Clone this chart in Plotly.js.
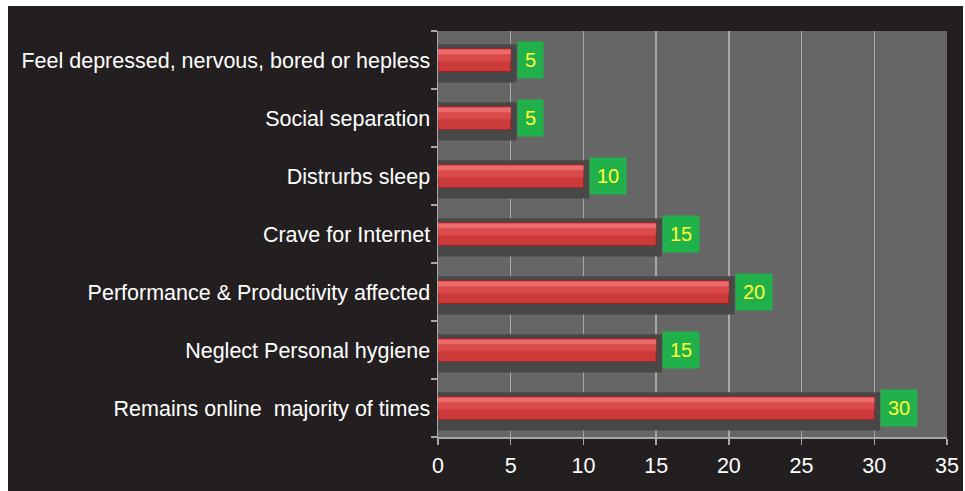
<!DOCTYPE html>
<html>
<head>
<meta charset="utf-8">
<script src="https://cdn.plot.ly/plotly-3.0.1.min.js"></script>
<style>
html,body{margin:0;padding:0;background:#ffffff;}
#chart{position:absolute;left:8px;top:6px;width:955px;height:485px;}
</style>
</head>
<body>
<div id="chart"></div>
<script>
// Data (bottom to top as drawn by Plotly)
const categories = [
  "Remains online  majority of times",
  "Neglect Personal hygiene",
  "Performance & Productivity affected",
  "Crave for Internet",
  "Distrurbs sleep",
  "Social separation",
  "Feel depressed, nervous, bored or hepless"
];
const values = [30, 15, 20, 15, 10, 5, 5];
const xTicks = [0, 5, 10, 15, 20, 25, 30, 35];

const shadowTrace = {
  type: 'bar', orientation: 'h',
  y: categories, x: values.map(v => v + 0.4),
  width: 0.66, offset: -0.39,
  marker: {color: '#484848'},
  hoverinfo: 'skip', showlegend: false
};
const mainTrace = {
  type: 'bar', orientation: 'h',
  y: categories, x: values,
  width: 0.4, offset: -0.2,
  marker: {color: '#cc3b3b', line: {color: '#9a2424', width: 1}},
  showlegend: false
};
const midTrace = {
  type: 'bar', orientation: 'h',
  y: categories, x: values,
  width: 0.2, offset: -0.02,
  marker: {color: '#da4a4a'},
  hoverinfo: 'skip', showlegend: false
};
const highlightTrace = {
  type: 'bar', orientation: 'h',
  y: categories, x: values,
  width: 0.08, offset: 0.1,
  marker: {color: '#e96b6b'},
  hoverinfo: 'skip', showlegend: false
};

const annotations = values.map((v, i) => ({
  x: v, y: categories[i], xref: 'x', yref: 'y',
  text: String(v), showarrow: false,
  xanchor: 'left', xshift: 6,
  bgcolor: '#21b14b', borderpad: 7,
  font: {family: 'Liberation Sans, Arial, sans-serif', size: 20, color: '#ffff33'}
}));

const layout = {
  width: 955, height: 485,
  paper_bgcolor: '#231f20',
  plot_bgcolor: '#666666',
  barmode: 'overlay',
  margin: {l: 430, r: 16, t: 25, b: 54},
  font: {family: 'Liberation Sans, Arial, sans-serif', color: '#ffffff'},
  xaxis: {
    range: [0, 35],
    tickvals: xTicks, ticktext: xTicks.map(String),
    showgrid: true, gridcolor: '#a8a8a8', gridwidth: 1.5,
    zeroline: false,
    showline: true, linecolor: '#a8a8a8', linewidth: 1.5,
    ticks: 'outside', ticklen: 6, tickcolor: '#a8a8a8', tickwidth: 1.5,
    ticklabelstandoff: 3,
    tickfont: {size: 21.5, color: '#ffffff'}
  },
  yaxis: {
    type: 'category',
    showgrid: false, zeroline: false,
    showline: true, linecolor: '#a8a8a8', linewidth: 1.5,
    ticks: 'outside', tickson: 'boundaries', ticklen: 6, tickcolor: '#a8a8a8', tickwidth: 1.5,
    ticklabelstandoff: 2,
    tickfont: {size: 21.5, color: '#ffffff'}
  },
  annotations: annotations
};

Plotly.newPlot('chart', [shadowTrace, mainTrace, midTrace, highlightTrace], layout, {displayModeBar: false, staticPlot: true});
</script>
</body>
</html>
